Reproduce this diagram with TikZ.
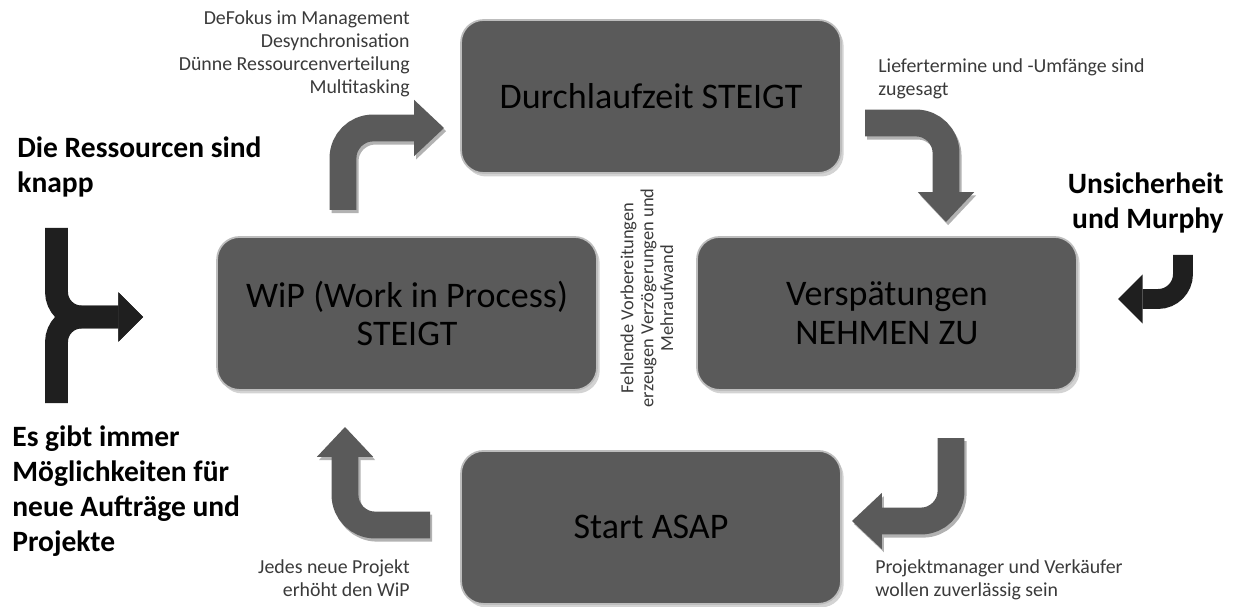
\documentclass[tikz,border=0pt]{standalone}
\usepackage{fontspec}
\setmainfont{Carlito}
\usetikzlibrary{arrows.meta,positioning,shadows}
\definecolor{boxgray}{HTML}{5A5A5A}
\definecolor{rimgray}{HTML}{BDBDBD}
\definecolor{notegray}{HTML}{3A3A3A}
\tikzstyle{box} = [rectangle, rounded corners=0.45cm, draw=rimgray, line width=1pt, fill=boxgray, minimum width=7.6cm, minimum height=3.06cm, align=center, text=black, font=\fontsize{20.5}{22}\selectfont, drop shadow={shadow xshift=1.5pt, shadow yshift=-2pt, opacity=0.35}]
\tikzstyle{bentarrow} = [draw=boxgray, line width=15.3pt, rounded corners=0.6cm, -{Triangle[length=17pt, width=32pt, line width=0pt]}]
\tikzstyle{bentshadow} = [bentarrow, draw=black!30, transform canvas={xshift=1.2pt, yshift=-1.8pt}]
\tikzstyle{fork} = [draw=black!88, line width=13pt, rounded corners=0.5cm, -{Triangle[length=14pt, width=28pt, line width=0pt]}]
\tikzstyle{cause} = [font=\fontsize{16.8}{20}\selectfont\bfseries, inner sep=0pt]
\tikzstyle{note} = [font=\fontsize{11.3}{13.2}\selectfont, text=notegray, inner sep=0pt]

\begin{document}
\begin{tikzpicture}[x=0.02cm, y=-0.02cm, on grid]
  \useasboundingbox (0,0) rectangle (1236,607);

  % the four states of the cycle
  \node [box] (dlz) at (651,96.5) {Durchlaufzeit STEIGT};
  \node [box, below left=4.34cm and 4.88cm of dlz] (wip) {WiP (Work in Process)\\STEIGT};
  \node [box, below right=4.34cm and 4.72cm of dlz] (versp) {Verspätungen\\NEHMEN ZU};
  \node [box, below=8.62cm of dlz] (asap) {Start ASAP};

  % ends of the bent arrows
  \coordinate (wip out) at (343,210);
  \coordinate (dlz in) at (444,128);
  \coordinate (dlz out) at (865,123);
  \coordinate (versp in) at (946,222);
  \coordinate (versp out) at (951,438);
  \coordinate (asap in) at (852,521);
  \coordinate (asap out) at (430,525);
  \coordinate (wip in) at (345,427);

  \path [bentshadow] (wip out) |- (dlz in);
  \path [bentshadow] (dlz out) -| (versp in);
  \path [bentshadow] (versp out) |- (asap in);
  \path [bentshadow] (asap out) -| (wip in);
  \path [bentarrow] (wip out) |- (dlz in);
  \path [bentarrow] (dlz out) -| (versp in);
  \path [bentarrow] (versp out) |- (asap in);
  \path [bentarrow] (asap out) -| (wip in);

  % outside causes
  \coordinate (res top) at (56.5,228);
  \coordinate (res bot) at (56.5,403);
  \coordinate (res tip) at (143,317);
  \coordinate (unc top) at (1183,255);
  \coordinate (unc tip) at (1118,299);
  \path [fork] (res top) |- (res tip);
  \path [fork] (res bot) |- (res tip);
  \path [fork, line width=11.3pt] (unc top) |- (unc tip);

  \node [cause, anchor=north west, align=left] (res) at (17,136) {Die Ressourcen sind\\knapp};
  \node [cause, anchor=north east, align=right] (unc) at (1224,172) {Unsicherheit\\und Murphy};
  \node [cause, anchor=north west, align=left] (opp) at (12,425) {Es gibt immer\\Möglichkeiten für\\neue Aufträge und\\Projekte};

  % notes along the arrows
  \node [note, anchor=north east, align=right] (defok) at (410,10) {DeFokus im Management\\Desynchronisation\\Dünne Ressourcenverteilung\\Multitasking};
  \node [note, anchor=north west, align=left] (lief) at (878,58) {Liefertermine und -Umfänge sind\\zugesagt};
  \node [note, anchor=north east, align=right] (jedes) at (410,559) {Jedes neue Projekt\\erhöht den WiP};
  \node [note, anchor=north west, align=left] (proj) at (875,559) {Projektmanager und Verkäufer\\wollen zuverlässig sein};
  \node [note, rotate=90, align=center, font=\fontsize{10.5}{11.3}\selectfont] (fehl) at (647,298) {Fehlende Vorbereitungen\\erzeugen Verzögerungen und\\Mehraufwand};
\end{tikzpicture}
\end{document}
